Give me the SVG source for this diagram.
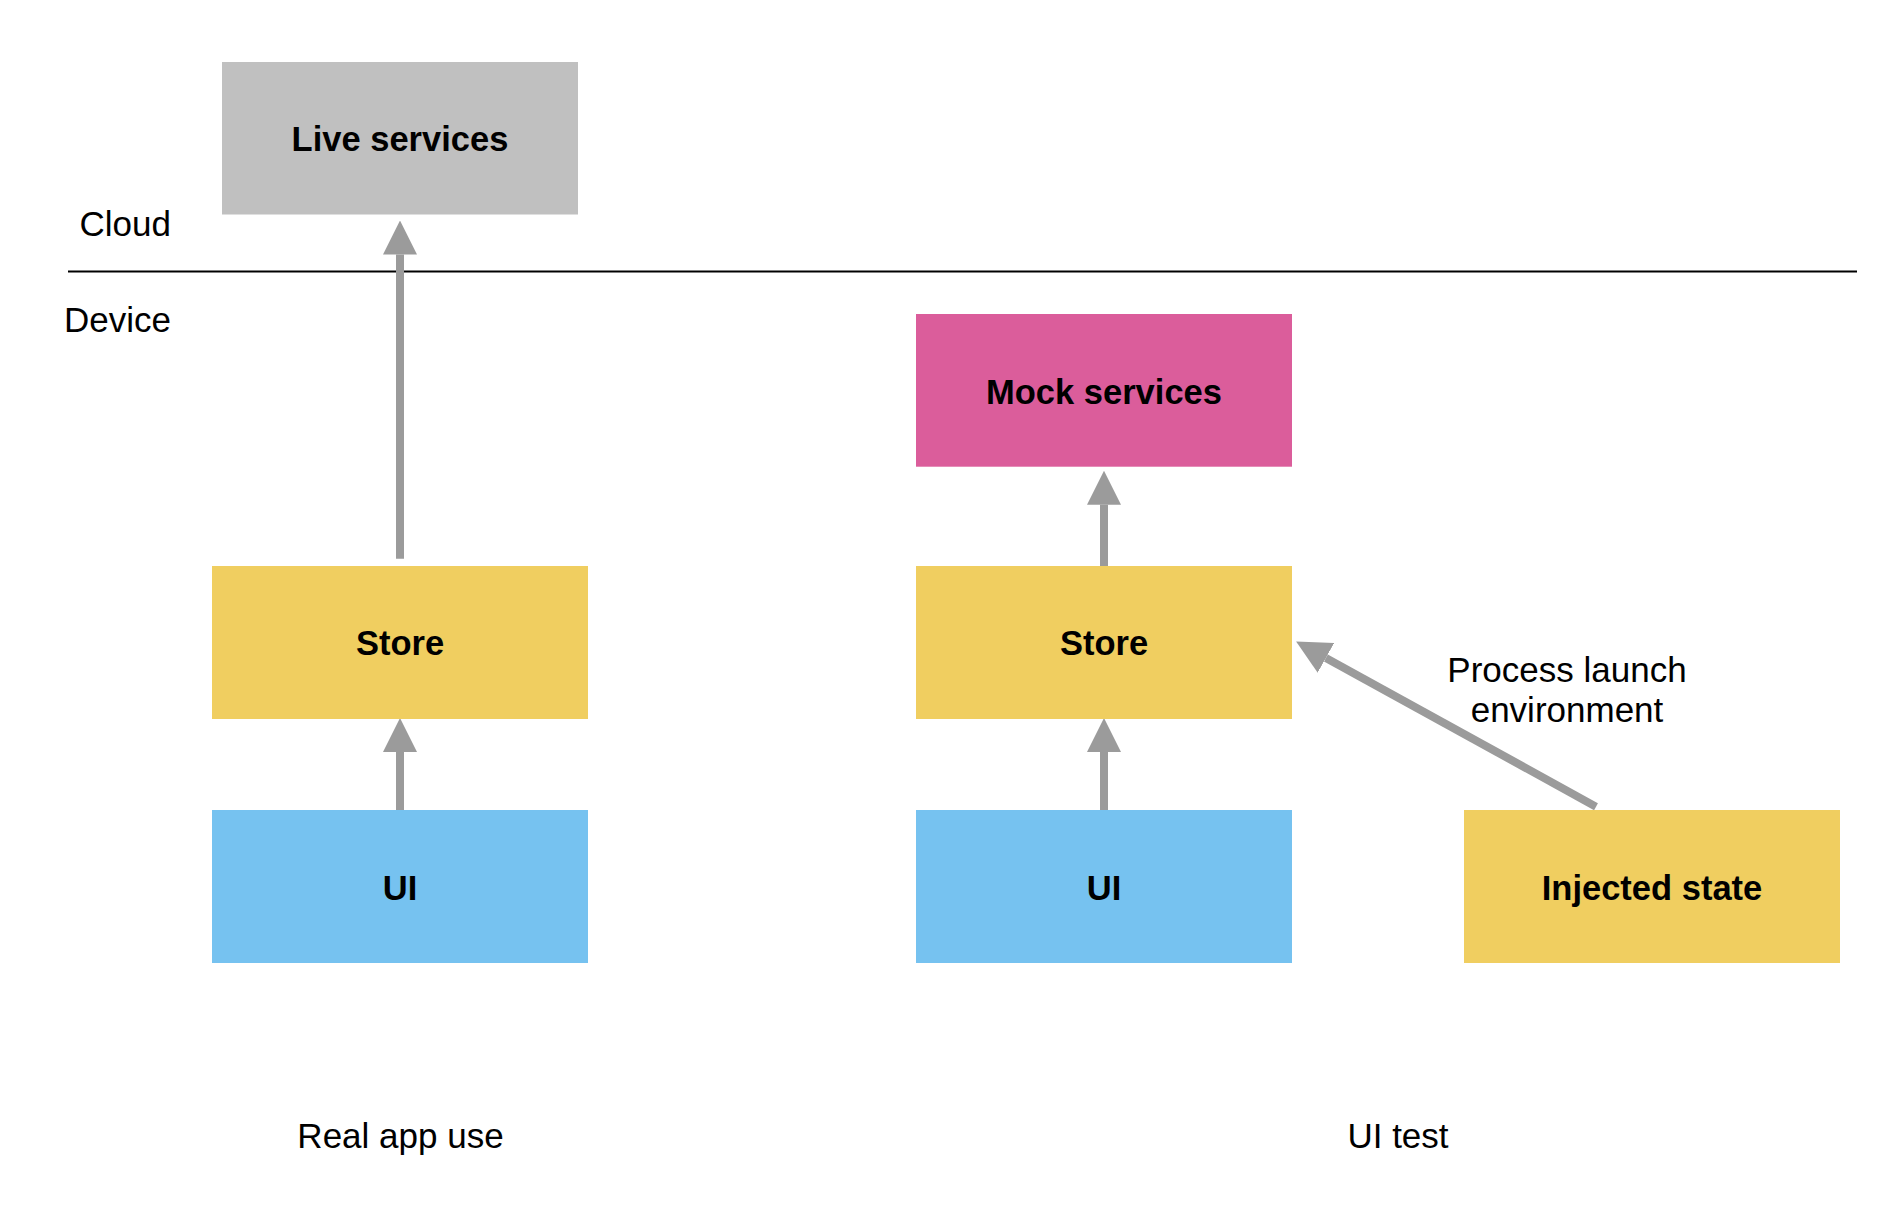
<svg xmlns="http://www.w3.org/2000/svg" width="1896" height="1224" viewBox="0 0 1896 1224">
<style>
text{font-family:"Liberation Sans",Arial,sans-serif;font-size:35px;fill:#000}
.lbl{font-weight:bold;font-size:34.5px;text-anchor:middle}
.mid{text-anchor:middle}
.end{text-anchor:end}
.conn{stroke:#9b9b9b;stroke-width:8;fill:none;marker-end:url(#ah)}
</style>
<defs>
<marker id="ah" markerUnits="userSpaceOnUse" markerWidth="34" markerHeight="34" viewBox="0 0 33 33" refX="0" refY="16.5" orient="auto">
<path d="M0,0 L33,16.5 L0,33 Z" fill="#9b9b9b"/>
</marker>
</defs>
<rect width="1896" height="1224" fill="#fff"/>
<g id="divider">
<line x1="68" y1="271.5" x2="1857" y2="271.5" stroke="#000" stroke-width="2"/>
<text class="end" x="171" y="236">Cloud</text>
<text class="end" x="171" y="331.5">Device</text>
</g>
<g id="connectors">
<line class="conn" x1="400" y1="558.7" x2="400" y2="254.5"/>
<line class="conn" x1="400" y1="810" x2="400" y2="752"/>
<line class="conn" x1="1104" y1="566" x2="1104" y2="504.7"/>
<line class="conn" x1="1104" y1="810" x2="1104" y2="752"/>
<line class="conn" x1="1596" y1="806.7" x2="1325.9" y2="657.9"/>
<text class="mid" x="1567" y="681.7">Process launch</text>
<text class="mid" x="1567" y="721.7">environment</text>
</g>
<g id="live-services">
<rect x="222" y="62" width="356" height="152.5" fill="#c0c0c0"/>
<text class="lbl" x="400" y="150.7">Live services</text>
</g>
<g id="store-real">
<rect x="212" y="566" width="376" height="153" fill="#f0ce60"/>
<text class="lbl" x="400" y="655">Store</text>
</g>
<g id="ui-real">
<rect x="212" y="810" width="376" height="153" fill="#76c2f0"/>
<text class="lbl" x="400" y="900">UI</text>
</g>
<g id="mock-services">
<rect x="916" y="314" width="376" height="152.7" fill="#db5d9b"/>
<text class="lbl" x="1104" y="404.3">Mock services</text>
</g>
<g id="store-test">
<rect x="916" y="566" width="376" height="153" fill="#f0ce60"/>
<text class="lbl" x="1104" y="655">Store</text>
</g>
<g id="ui-test">
<rect x="916" y="810" width="376" height="153" fill="#76c2f0"/>
<text class="lbl" x="1104" y="900">UI</text>
</g>
<g id="injected-state">
<rect x="1464" y="810" width="376" height="153" fill="#f0ce60"/>
<text class="lbl" x="1652" y="899.5">Injected state</text>
</g>
<g id="captions">
<text class="mid" x="400.5" y="1147.7">Real app use</text>
<text class="mid" x="1398" y="1147.7">UI test</text>
</g>
</svg>
